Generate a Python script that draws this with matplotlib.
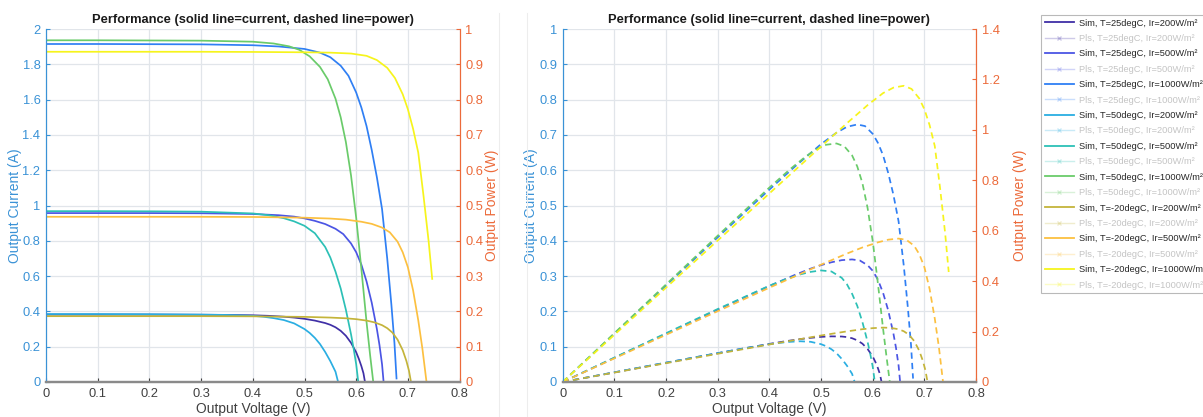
import matplotlib
matplotlib.use('Agg')
import matplotlib.pyplot as plt
import numpy as np
from matplotlib.lines import Line2D

plt.rcParams['font.family'] = ['Liberation Sans', 'DejaVu Sans']

# ---- data (voltage V, current A, power W) ----
v_25_200 = [0, 0.1, 0.2, 0.3, 0.35, 0.40, 0.43, 0.46, 0.48, 0.50, 0.52, 0.54, 0.55, 0.56, 0.57, 0.58, 0.59, 0.60, 0.605, 0.61, 0.614, 0.617]
i_25_200 = [0.382, 0.382, 0.382, 0.381, 0.380, 0.378, 0.375, 0.370, 0.365, 0.358, 0.348, 0.334, 0.324, 0.310, 0.290, 0.262, 0.222, 0.168, 0.132, 0.090, 0.050, 0.0]
p_25_200 = [0, 0.0382, 0.0764, 0.1143, 0.133, 0.1512, 0.1613, 0.1702, 0.1752, 0.179, 0.181, 0.1804, 0.1782, 0.1736, 0.1653, 0.152, 0.131, 0.1008, 0.0799, 0.0549, 0.0307, 0]

v_25_500 = [0, 0.1, 0.2, 0.3, 0.4, 0.45, 0.48, 0.50, 0.52, 0.54, 0.56, 0.575, 0.59, 0.60, 0.61, 0.62, 0.63, 0.64, 0.645, 0.65, 0.653]
i_25_500 = [0.957, 0.957, 0.957, 0.956, 0.952, 0.945, 0.937, 0.927, 0.913, 0.895, 0.868, 0.838, 0.785, 0.735, 0.665, 0.570, 0.450, 0.300, 0.210, 0.100, 0.0]
p_25_500 = [0, 0.0957, 0.1914, 0.2868, 0.3808, 0.4253, 0.4498, 0.4635, 0.4748, 0.4833, 0.4861, 0.4819, 0.4632, 0.441, 0.4057, 0.3534, 0.2835, 0.192, 0.1355, 0.065, 0]

v_25_1000 = [0, 0.1, 0.2, 0.3, 0.4, 0.45, 0.50, 0.53, 0.55, 0.57, 0.585, 0.60, 0.61, 0.62, 0.63, 0.64, 0.65, 0.66, 0.668, 0.674, 0.678]
i_25_1000 = [1.915, 1.915, 1.914, 1.913, 1.908, 1.901, 1.887, 1.866, 1.840, 1.792, 1.735, 1.640, 1.555, 1.450, 1.315, 1.160, 0.980, 0.700, 0.440, 0.220, 0.020]
p_25_1000 = [0, 0.1915, 0.3828, 0.5739, 0.7632, 0.8555, 0.9435, 0.989, 1.012, 1.0214, 1.015, 0.984, 0.9486, 0.899, 0.8285, 0.7424, 0.637, 0.462, 0.2939, 0.1483, 0.0136]

v_50_200 = [0, 0.1, 0.2, 0.3, 0.35, 0.40, 0.42, 0.44, 0.46, 0.48, 0.50, 0.51, 0.52, 0.53, 0.54, 0.55, 0.56, 0.565]
i_50_200 = [0.385, 0.385, 0.384, 0.382, 0.380, 0.375, 0.370, 0.362, 0.351, 0.332, 0.300, 0.278, 0.250, 0.215, 0.170, 0.118, 0.058, 0.0]
p_50_200 = [0, 0.0385, 0.0768, 0.1146, 0.133, 0.15, 0.1554, 0.1593, 0.1615, 0.1594, 0.15, 0.1418, 0.13, 0.114, 0.0918, 0.0649, 0.0325, 0]

v_50_500 = [0, 0.1, 0.2, 0.3, 0.4, 0.43, 0.46, 0.48, 0.50, 0.52, 0.54, 0.55, 0.56, 0.57, 0.58, 0.59, 0.595, 0.60, 0.604]
i_50_500 = [0.968, 0.968, 0.967, 0.965, 0.955, 0.945, 0.928, 0.910, 0.885, 0.843, 0.765, 0.705, 0.625, 0.530, 0.410, 0.270, 0.190, 0.100, 0.0]
p_50_500 = [0, 0.0968, 0.1934, 0.2895, 0.382, 0.4064, 0.4269, 0.4368, 0.4425, 0.4384, 0.4131, 0.3878, 0.35, 0.3021, 0.2378, 0.1593, 0.1131, 0.06, 0]

v_50_1000 = [0, 0.1, 0.2, 0.3, 0.4, 0.44, 0.47, 0.49, 0.51, 0.53, 0.545, 0.56, 0.57, 0.58, 0.59, 0.60, 0.61, 0.62, 0.627, 0.633]
i_50_1000 = [1.936, 1.936, 1.935, 1.934, 1.928, 1.918, 1.902, 1.882, 1.845, 1.785, 1.715, 1.605, 1.500, 1.360, 1.170, 0.930, 0.640, 0.340, 0.150, 0.0]
p_50_1000 = [0, 0.1936, 0.387, 0.5802, 0.7712, 0.8439, 0.8939, 0.9222, 0.941, 0.946, 0.9347, 0.8988, 0.855, 0.7888, 0.6903, 0.558, 0.3904, 0.2108, 0.0941, 0]

v_m20_200 = [0, 0.1, 0.2, 0.3, 0.4, 0.5, 0.55, 0.58, 0.60, 0.62, 0.635, 0.65, 0.66, 0.67, 0.68, 0.69, 0.697, 0.702, 0.706]
i_m20_200 = [0.373, 0.373, 0.373, 0.373, 0.372, 0.369, 0.365, 0.361, 0.356, 0.348, 0.338, 0.322, 0.305, 0.280, 0.240, 0.180, 0.120, 0.065, 0.0]
p_m20_200 = [0, 0.0373, 0.0746, 0.1119, 0.1488, 0.1845, 0.2008, 0.2094, 0.2136, 0.2158, 0.2146, 0.2093, 0.2013, 0.1876, 0.1632, 0.1242, 0.0836, 0.0456, 0]

v_m20_500 = [0, 0.1, 0.2, 0.3, 0.4, 0.5, 0.55, 0.58, 0.61, 0.63, 0.65, 0.665, 0.68, 0.69, 0.70, 0.71, 0.72, 0.728, 0.736]
i_m20_500 = [0.936, 0.936, 0.936, 0.936, 0.935, 0.931, 0.926, 0.920, 0.908, 0.896, 0.875, 0.848, 0.795, 0.735, 0.650, 0.520, 0.350, 0.190, 0.0]
p_m20_500 = [0, 0.0936, 0.1872, 0.2808, 0.374, 0.4655, 0.5093, 0.5336, 0.5539, 0.5645, 0.5688, 0.5639, 0.5406, 0.5072, 0.455, 0.3692, 0.252, 0.1383, 0]

v_m20_1000 = [0, 0.1, 0.2, 0.3, 0.4, 0.5, 0.55, 0.59, 0.62, 0.64, 0.66, 0.675, 0.69, 0.70, 0.71, 0.72, 0.73, 0.74, 0.747]
i_m20_1000 = [1.871, 1.871, 1.871, 1.871, 1.870, 1.868, 1.866, 1.861, 1.848, 1.824, 1.780, 1.722, 1.630, 1.545, 1.435, 1.300, 1.060, 0.800, 0.584]
p_m20_1000 = [0, 0.1871, 0.3742, 0.5613, 0.748, 0.934, 1.0263, 1.098, 1.1458, 1.1674, 1.1748, 1.1624, 1.1247, 1.0815, 1.0189, 0.936, 0.7738, 0.592, 0.4362]

cases = ['T=25degC, Ir=200W/m²', 'T=25degC, Ir=500W/m²', 'T=25degC, Ir=1000W/m²',
         'T=50degC, Ir=200W/m²', 'T=50degC, Ir=500W/m²', 'T=50degC, Ir=1000W/m²',
         'T=-20degC, Ir=200W/m²', 'T=-20degC, Ir=500W/m²', 'T=-20degC, Ir=1000W/m²']
volts = [v_25_200, v_25_500, v_25_1000, v_50_200, v_50_500, v_50_1000, v_m20_200, v_m20_500, v_m20_1000]
currents = [i_25_200, i_25_500, i_25_1000, i_50_200, i_50_500, i_50_1000, i_m20_200, i_m20_500, i_m20_1000]
powers = [p_25_200, p_25_500, p_25_1000, p_50_200, p_50_500, p_50_1000, p_m20_200, p_m20_500, p_m20_1000]

colors = ['#3f2fa6', '#4b55e4', '#2f7ff4', '#2aaee2', '#2cc0b6', '#6acb6a',
          '#c4b43a', '#fcc040', '#f6f41c']

blue = '#3a92d6'
orange = '#ec6a3a'
grid_c = '#e1e5ea'
tick_c = '#404040'
title = 'Performance (solid line=current, dashed line=power)'

fig = plt.figure(figsize=(12.03, 4.17), dpi=100)
W, H = 1203, 417


def make_axes(x0, x1, ymax_l, yticks_l, ymax_r, yticks_r, lab_l, lab_r):
    ax = fig.add_axes([x0 / W, 35 / H, (x1 - x0) / W, 353 / H])
    axr = ax.twinx()
    ax.set_xlim(0, 0.8)
    ax.set_ylim(0, ymax_l)
    axr.set_ylim(0, ymax_r)
    xt = np.arange(0, 0.81, 0.1)
    ax.set_xticks(xt)
    ax.set_xticklabels([f'{t:g}' for t in np.round(xt, 2)], color=tick_c, fontsize=9.3)
    ax.set_yticks(yticks_l)
    ax.set_yticklabels([f'{t:g}' for t in np.round(yticks_l, 2)], color=blue, fontsize=9.3)
    axr.set_yticks(yticks_r)
    axr.set_yticklabels([f'{t:g}' for t in np.round(yticks_r, 2)], color=orange, fontsize=9.3)
    ax.grid(True, color=grid_c, lw=0.9)
    ax.set_axisbelow(True)
    for a in (ax, axr):
        a.spines['top'].set_visible(False)
        a.spines['bottom'].set_color('#8a8a8a')
        a.spines['bottom'].set_linewidth(1.6)
        a.spines['left'].set_color(blue)
        a.spines['right'].set_color(orange)
    ax.tick_params(axis='x', direction='in', length=3, color=tick_c, pad=4)
    ax.tick_params(axis='y', direction='in', length=3, color=blue, pad=4)
    axr.tick_params(axis='y', direction='in', length=3, color=orange, pad=4)
    ax.set_xlabel('Output Voltage (V)', fontsize=10, color=tick_c)
    ax.xaxis.set_label_coords(0.5, -0.058)
    ax.set_ylabel(lab_l, fontsize=10, color=blue)
    axr.set_ylabel(lab_r, fontsize=10, color=orange)
    ax.set_title(title, fontsize=9.3, fontweight='bold', pad=4, color='#1a1a1a')
    return ax, axr


ax1, ax1r = make_axes(46, 459.6, 2, np.arange(0, 2.01, 0.2), 1, np.arange(0, 1.01, 0.1),
                      'Output Current (A)', 'Output Power (W)')
ax1.yaxis.set_label_coords(-0.058, 0.5)
ax1r.yaxis.set_label_coords(1.061, 0.5)

ax2, ax2r = make_axes(562.7, 976.1, 1, np.arange(0, 1.01, 0.1), 1.4, np.arange(0, 1.41, 0.2),
                      'Output Current (A)', 'Output Power (W)')
ax2.yaxis.set_label_coords(-0.060, 0.5)
ax2r.yaxis.set_label_coords(1.089, 0.5)

handles = []
labels = []
for v, cur, pw, c, case in zip(volts, currents, powers, colors, cases):
    ax1.plot(v, cur, color=c, lw=1.25)
    ax2r.plot(v, pw, color=c, lw=1.25, linestyle=(0, (3.6, 2.4)))
    handles.append(Line2D([], [], color=c, lw=1.3))
    labels.append('Sim, ' + case)
    handles.append(Line2D([], [], color=c, lw=1.0, alpha=0.25, marker='x', markersize=3.5))
    labels.append('Pls, ' + case)

leg = fig.legend(handles, labels, loc='upper left', bbox_to_anchor=(1041 / W, 1 - 15 / H),
                 fontsize=6.7, frameon=True, fancybox=False, handlelength=3.2,
                 handletextpad=0.45, labelspacing=0.69, borderpad=0.38, borderaxespad=0)
leg.get_frame().set_edgecolor('#a8a8a8')
leg.get_frame().set_linewidth(0.8)
for k, t in enumerate(leg.get_texts()):
    t.set_color('#262626' if k % 2 == 0 else '#c4c4c4')

# faint panel separators seen in the screenshot
for xp in (499, 527):
    fig.add_artist(Line2D([xp / W, xp / W], [0, 1 - 13 / H], color='#ededed', lw=0.8))

fig.savefig('out.png', dpi=100)
